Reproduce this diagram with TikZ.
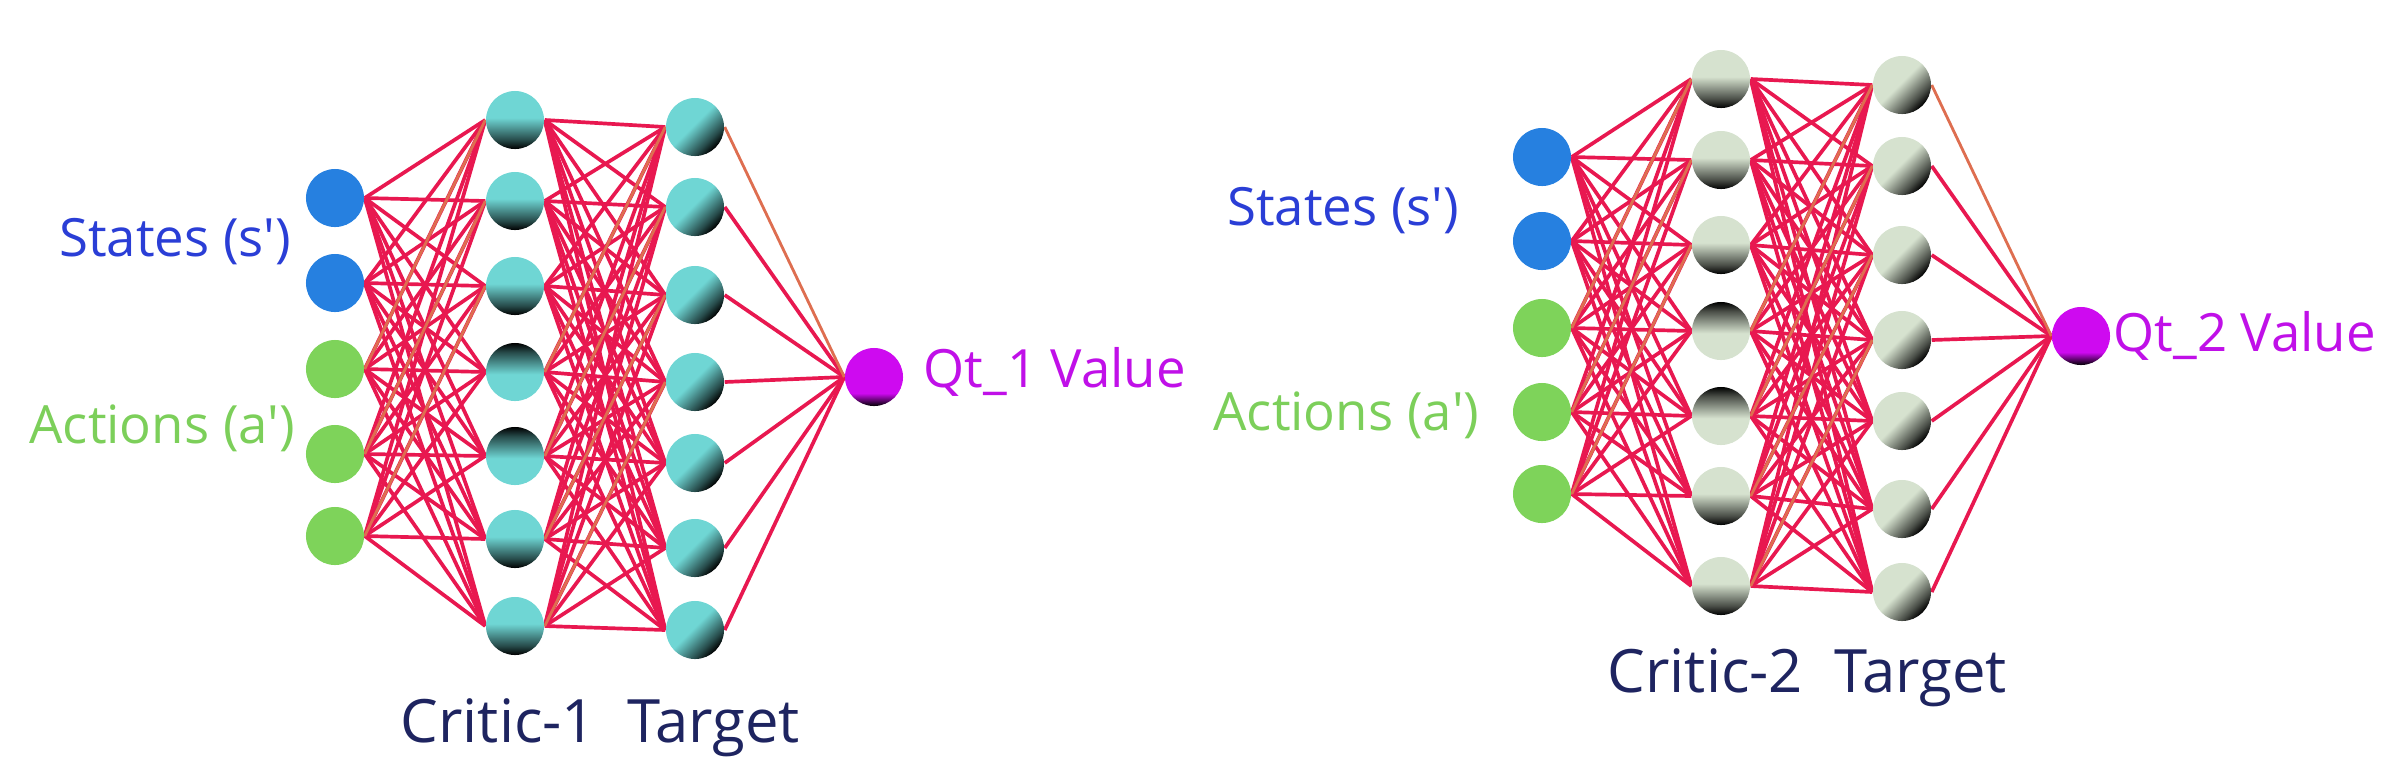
\documentclass[tikz,border=0pt]{standalone}
\usepackage{fontspec}
\setmainfont{Open Sans}
\usetikzlibrary{backgrounds}
\definecolor{ecol}{RGB}{232,24,80}
\definecolor{eorg}{RGB}{222,110,80}
\definecolor{cyanN}{RGB}{111,214,212}
\definecolor{sageN}{RGB}{214,226,207}
\definecolor{blueN}{RGB}{38,128,224}
\definecolor{greenN}{RGB}{126,211,90}
\definecolor{magN}{RGB}{206,10,240}
\definecolor{statesT}{RGB}{42,62,214}
\definecolor{actT}{RGB}{124,207,90}
\definecolor{qT}{RGB}{192,16,232}
\definecolor{critT}{RGB}{30,36,96}
\pgfdeclareverticalshading{cyball}{100bp}{color(0bp)=(black); color(25bp)=(black); color(33bp)=(cyanN!35!black); color(46bp)=(cyanN!80!black); color(52bp)=(cyanN); color(100bp)=(cyanN)}
\pgfdeclareverticalshading{sgball}{100bp}{color(0bp)=(black); color(25bp)=(black); color(33bp)=(sageN!35!black); color(46bp)=(sageN!80!black); color(52bp)=(sageN); color(100bp)=(sageN)}
\pgfdeclareverticalshading{mgball}{100bp}{color(0bp)=(black); color(25bp)=(black); color(30bp)=(magN!45!black); color(36bp)=(magN); color(100bp)=(magN)}
\tikzset{
  neuron/.style={circle, minimum size=0.58cm, inner sep=0pt, draw=none},
  inpB/.style={neuron, fill=blueN},
  inpG/.style={neuron, fill=greenN},
  hup/.style={neuron, shading=#1},
  hdown/.style={neuron, shading=#1, shading angle=180},
  hdiag/.style={neuron, shading=#1, shading angle=45},
  outN/.style={neuron, shading=mgball},
  link/.style={draw=ecol, line width=1.05pt},
  olink/.style={draw=eorg, line width=0.8pt},
  lbl/.style={inner sep=0pt, font=\fontsize{15}{18}\selectfont},
  crit/.style={inner sep=0pt, font=\fontsize{17}{20}\selectfont, text=critT},
}
\begin{document}
\begin{tikzpicture}[x=0.01cm, y=-0.01cm]
\useasboundingbox (0,0) rectangle (2399,769);
% ---------- left network ----------
\foreach \y [count=\i] in {198,283,369,454,536} {
  \ifnum\i<3 \node[inpB] (Lin\i) at (335,\y) {}; \else \node[inpG] (Lin\i) at (335,\y) {}; \fi
}
\foreach \y [count=\i] in {120,201,286,372,456,539,626} {
  \ifnum\i=4 \node[hdown=cyball] (Lha\i) at (515,\y) {};
  \else\ifnum\i=5 \node[hdown=cyball] (Lha\i) at (515,\y) {};
  \else \node[hup=cyball] (Lha\i) at (515,\y) {}; \fi\fi
}
\foreach \y [count=\i] in {127,207,295,382,463,548,630} {
  \node[hdiag=cyball] (Lhb\i) at (695,\y) {};
}
\node[outN] (Lout) at (874,377) {};
% ---------- right network ----------
\foreach \y [count=\i] in {157,241,328,412,494} {
  \ifnum\i<3 \node[inpB] (Rin\i) at (1542,\y) {}; \else \node[inpG] (Rin\i) at (1542,\y) {}; \fi
}
\foreach \y [count=\i] in {79,160,245,331,416,496,586} {
  \ifnum\i=4 \node[hdown=sgball] (Rha\i) at (1721,\y) {};
  \else\ifnum\i=5 \node[hdown=sgball] (Rha\i) at (1721,\y) {};
  \else \node[hup=sgball] (Rha\i) at (1721,\y) {}; \fi\fi
}
\foreach \y [count=\i] in {85,166,255,340,421,509,592} {
  \node[hdiag=sgball] (Rhb\i) at (1902,\y) {};
}
\node[outN] (Rout) at (2081,336) {};
% ---------- connectors ----------
\begin{scope}[on background layer]
\foreach \n in {L,R} {
  \foreach \i in {1,...,5} \foreach \j in {1,...,7} \draw[link] (\n in\i.east) -- (\n ha\j.west);
  \foreach \i in {1,...,7} \foreach \j in {1,...,7} \draw[link] (\n ha\i.east) -- (\n hb\j.west);
  \foreach \i in {2,...,7} \draw[link] (\n hb\i.east) -- (\n out.west);
  \draw[olink] (\n hb1.east) -- (\n out.west);
  \draw[olink] (\n in3.east) -- (\n ha1.west);
  \draw[olink] (\n in4.east) -- (\n ha2.west);
  \draw[olink] (\n in5.east) -- (\n ha3.west);
  \draw[olink] (\n ha4.east) -- (\n hb1.west);
  \draw[olink] (\n ha5.east) -- (\n hb2.west);
  \draw[olink] (\n ha6.east) -- (\n hb3.west);
  \draw[olink] (\n ha7.east) -- (\n hb4.west);
}
\end{scope}
% ---------- labels ----------
\node[lbl, text=statesT, anchor=base east] (Lst) at (292,256) {States (s\textquotesingle)};
\node[lbl, text=actT, anchor=base east] (Lac) at (296,443) {Actions (a\textquotesingle)};
\node[lbl, text=qT, anchor=base west] (Lq) at (923,387) {Qt\_1 Value};
\node[crit, anchor=base west] (Lcr) at (400,742) {Critic-1\ \ Target};
\node[lbl, text=statesT, anchor=base east] (Rst) at (1460,225) {States (s\textquotesingle)};
\node[lbl, text=actT, anchor=base east] (Rac) at (1480,430) {Actions (a\textquotesingle)};
\node[lbl, text=qT, anchor=base west] (Rq) at (2113,351) {Qt\_2 Value};
\node[crit, anchor=base west] (Rcr) at (1607,692) {Critic-2\ \ Target};
\end{tikzpicture}
\end{document}
